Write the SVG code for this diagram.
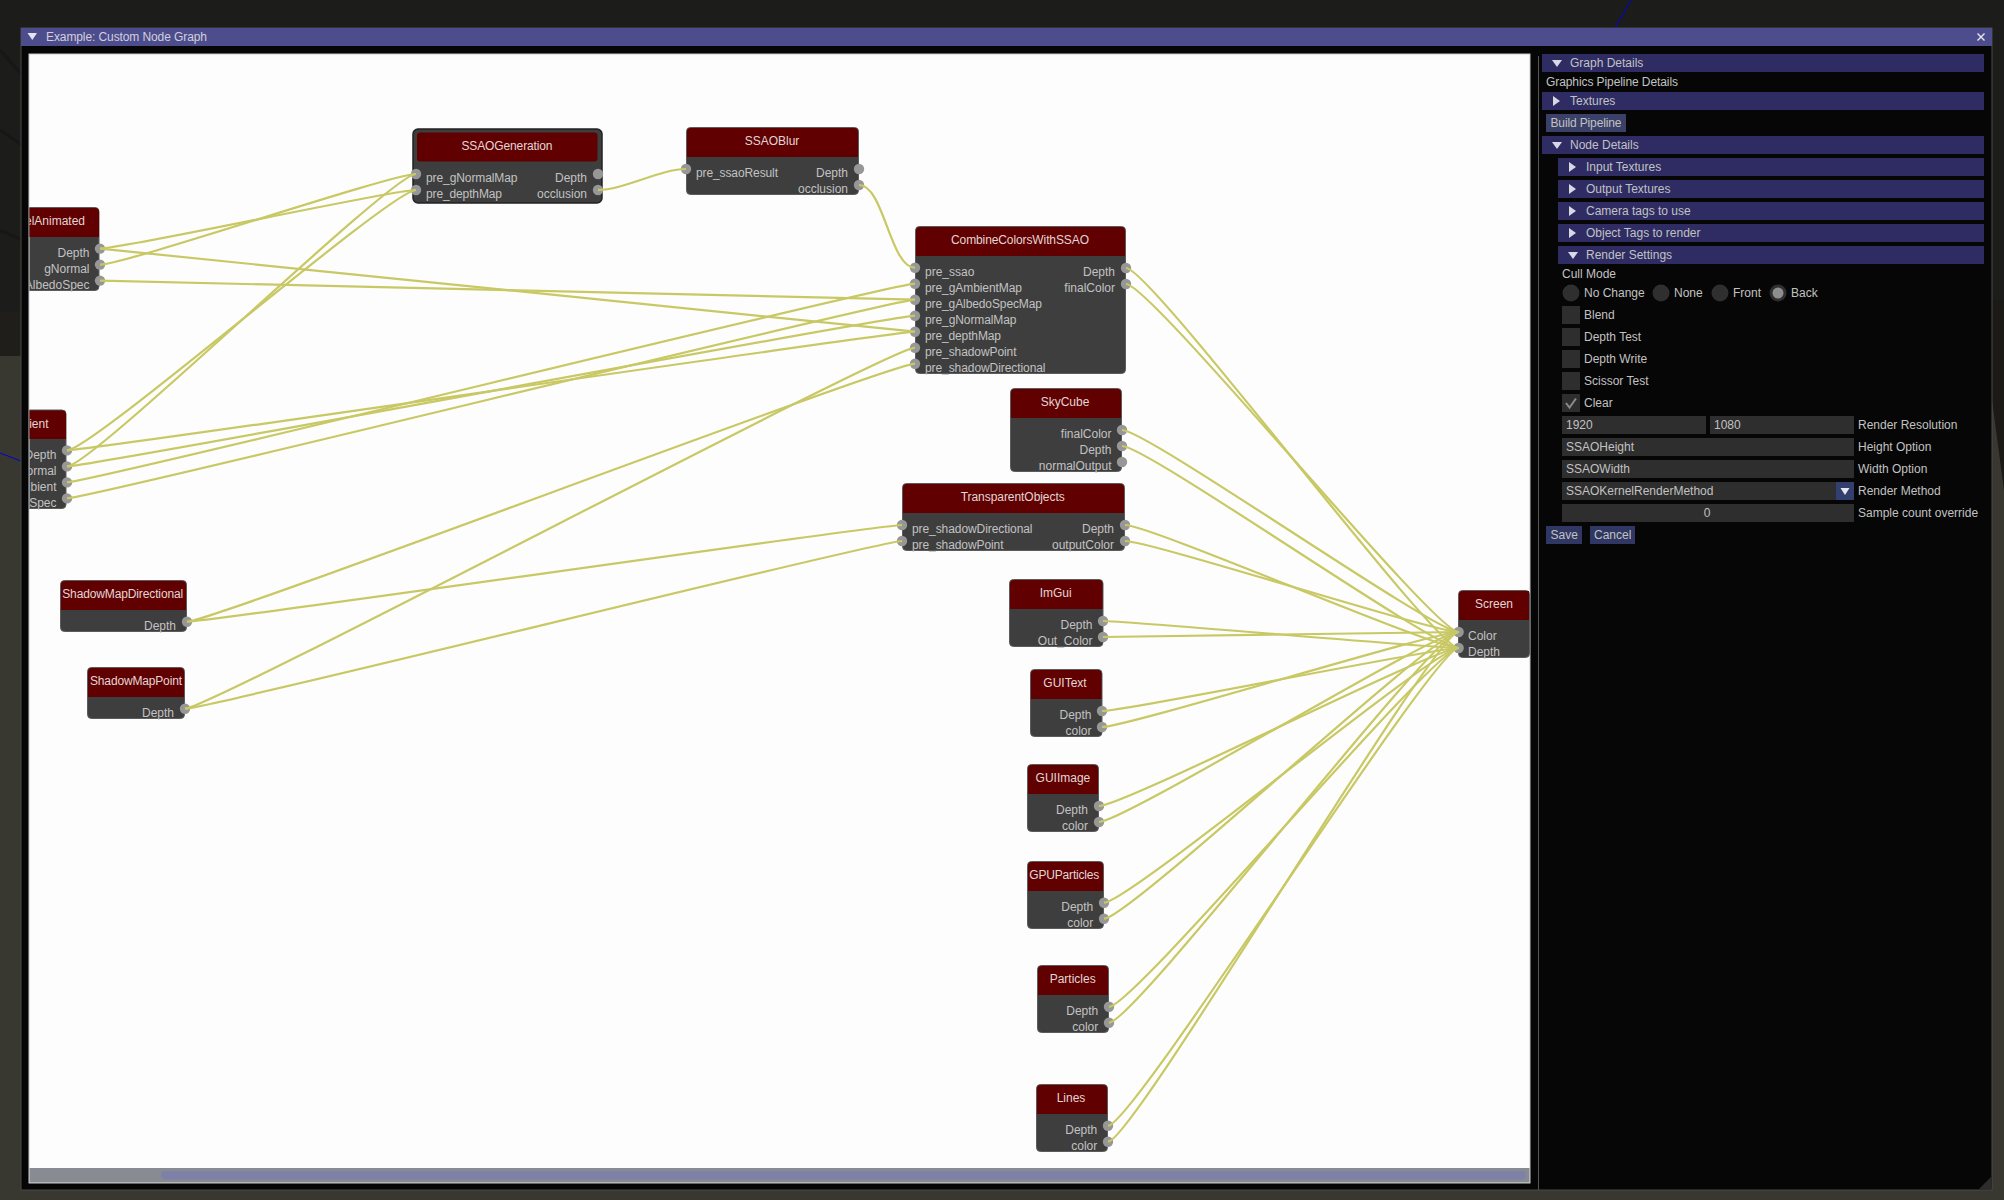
<svg xmlns="http://www.w3.org/2000/svg" width="2004" height="1200" viewBox="0 0 2004 1200">
<defs>
<style>
text{font-family:"Liberation Sans",Arial,sans-serif;font-size:12px;fill:#c2c2c2}
.t{text-anchor:middle;fill:#e2d6d6}
.r{text-anchor:end}
.b{fill:#3e3e3e;stroke:#5c5c5c;stroke-width:1}
.h{fill:#600000}
.p{fill:#979797}
.hd{fill:#2e2c63}
.ib{fill:#2e2e2e}
.btn{fill:#2f3762}
.rd{fill:#2f2f2f}
.c{fill:none;stroke:#c8c864;stroke-width:2.2}
</style>
<clipPath id="cv"><rect x="29.5" y="54" width="1500" height="1114"/></clipPath>
</defs>
<g id="background">
<rect width="2004" height="1200" fill="#383730"/>
<rect width="2004" height="312" fill="#1c1c1b"/>
<rect y="312" width="22" height="44" fill="#201e1a"/>
<path d="M1992 300V400L2004 490V300Z" fill="#1c1a17"/>
<path d="M0 50L22 75M0 130L22 145M0 230L22 240" stroke="#171717" stroke-width="3" fill="none"/>
<path d="M0 453L21 461M1615 28L1631 0" stroke="#0000d8" stroke-width="1" fill="none"/>
</g>
<g id="window">
<rect x="21" y="28" width="1971" height="1162" fill="#060606" stroke="#4a4a4a" stroke-width="1"/>
<rect x="21" y="28" width="1971" height="18" fill="#4d4c8c"/>
<path d="M27.500 33H37L32.300 40Z" fill="#e4e4f0"/>
<text x="46" y="41" style="fill:#d0d0dc" textLength="161">Example: Custom Node Graph</text>
<path d="M1977.500 33.500L1984.500 40.500M1984.500 33.500L1977.500 40.500" stroke="#e8e8f0" stroke-width="1.400" fill="none"/>
<path d="M1978 1190L1991 1177V1190Z" fill="#2c2c2c"/>
<rect x="29" y="54" width="1501" height="1129" fill="#fdfdfd" stroke="#c8c8c8" stroke-width="1"/>
<rect x="29.500" y="1168" width="1500" height="14.500" fill="#868c92"/>
<rect x="161" y="1171" width="1365" height="8.500" rx="4" fill="#7f80a8"/>
<path d="M1538.500 56V1190" stroke="#555" stroke-width="1" fill="none"/>
</g>
<g clip-path="url(#cv)">
<g id="node-gbuffer-animated">
<rect class="b" x="22" y="207.500" width="77" height="83" rx="4"/>
<path class="h" d="M22 208H95a4 4 0 0 1 4 4V237H22Z"/>
<text class="t" x="85" y="225" style="text-anchor:end">elAnimated</text>
<text class="r" x="89.500" y="257">Depth</text><text class="r" x="89.500" y="273">gNormal</text><text class="r" x="89.500" y="289">AlbedoSpec</text>
<circle class="p" cx="100" cy="248.600" r="5.200"/><circle class="p" cx="100" cy="264.600" r="5.200"/><circle class="p" cx="100" cy="280.600" r="5.200"/>
</g>
<g id="node-gbuffer">
<rect class="b" x="22" y="410" width="44" height="98.500" rx="4"/>
<path class="h" d="M22 410.500H62a4 4 0 0 1 4 4V439H22Z"/>
<text class="t" x="48.500" y="427.500" style="text-anchor:end">ient</text>
<text class="r" x="56.500" y="459">Depth</text><text class="r" x="56.500" y="475">ormal</text><text class="r" x="56.500" y="491">bient</text><text class="r" x="56.500" y="507">Spec</text>
<circle class="p" cx="67" cy="450.400" r="5.200"/><circle class="p" cx="67" cy="466.400" r="5.200"/><circle class="p" cx="67" cy="482.400" r="5.200"/><circle class="p" cx="67" cy="498.400" r="5.200"/>
</g>
</g>
<g id="node-ssaogeneration">
<rect x="413" y="129" width="189" height="74" rx="5" fill="#3e3e3e" stroke="#222" stroke-width="1.500"/>
<rect class="h" x="417" y="132.500" width="180.500" height="29" rx="3"/>
<text class="t" x="507" y="150" textLength="91">SSAOGeneration</text>
<text x="426" y="182" textLength="91.500">pre_gNormalMap</text><text x="426" y="198" textLength="76">pre_depthMap</text>
<text class="r" x="587" y="182">Depth</text><text class="r" x="587" y="198">occlusion</text>
<circle class="p" cx="416" cy="174" r="5.200"/><circle class="p" cx="416" cy="190" r="5.200"/><circle class="p" cx="598" cy="174" r="5.200"/><circle class="p" cx="598" cy="190" r="5.200"/>
</g>
<g id="node-ssaoblur">
<rect class="b" x="686.500" y="127.500" width="172" height="67" rx="4"/>
<path class="h" d="M687 132a4 4 0 0 1 4-4H854a4 4 0 0 1 4 4V157H687Z"/>
<text class="t" x="772" y="145">SSAOBlur</text>
<text x="696" y="177" textLength="82">pre_ssaoResult</text><text class="r" x="848" y="177">Depth</text><text class="r" x="848" y="193">occlusion</text>
<circle class="p" cx="686" cy="169" r="5.200"/><circle class="p" cx="859" cy="169" r="5.200"/><circle class="p" cx="859" cy="185" r="5.200"/>
</g>
<g id="node-combine">
<rect class="b" x="915.500" y="226.500" width="210" height="147" rx="4"/>
<path class="h" d="M916 231a4 4 0 0 1 4-4H1121a4 4 0 0 1 4 4V256H916Z"/>
<text class="t" x="1020" y="244" textLength="138">CombineColorsWithSSAO</text>
<text x="925" y="276">pre_ssao</text><text x="925" y="292" textLength="97">pre_gAmbientMap</text><text x="925" y="308" textLength="117">pre_gAlbedoSpecMap</text><text x="925" y="324" textLength="91.500">pre_gNormalMap</text><text x="925" y="340" textLength="76">pre_depthMap</text><text x="925" y="356" textLength="91.500">pre_shadowPoint</text><text x="925" y="372" textLength="120.500">pre_shadowDirectional</text>
<text class="r" x="1115" y="276">Depth</text><text class="r" x="1115" y="292">finalColor</text>
<circle class="p" cx="915" cy="267.700" r="5.200"/><circle class="p" cx="915" cy="283.700" r="5.200"/><circle class="p" cx="915" cy="299.700" r="5.200"/><circle class="p" cx="915" cy="315.700" r="5.200"/><circle class="p" cx="915" cy="331.700" r="5.200"/><circle class="p" cx="915" cy="347.700" r="5.200"/><circle class="p" cx="915" cy="363.700" r="5.200"/>
<circle class="p" cx="1126" cy="268" r="5.200"/><circle class="p" cx="1126" cy="284" r="5.200"/>
</g>
<g id="node-skycube">
<rect class="b" x="1010.500" y="388.500" width="111" height="83" rx="4"/>
<path class="h" d="M1011 393a4 4 0 0 1 4-4H1117a4 4 0 0 1 4 4V418H1011Z"/>
<text class="t" x="1065" y="406">SkyCube</text>
<text class="r" x="1111.500" y="438">finalColor</text><text class="r" x="1111.500" y="454">Depth</text><text class="r" x="1111.500" y="470">normalOutput</text>
<circle class="p" cx="1122" cy="430" r="5.200"/><circle class="p" cx="1122" cy="446" r="5.200"/><circle class="p" cx="1122" cy="462" r="5.200"/>
</g>
<g id="node-transparent">
<rect class="b" x="902.500" y="483.500" width="222" height="67" rx="4"/>
<path class="h" d="M903 488a4 4 0 0 1 4-4H1120a4 4 0 0 1 4 4V513H903Z"/>
<text class="t" x="1012.700" y="501" textLength="104">TransparentObjects</text>
<text x="912" y="533" textLength="120.500">pre_shadowDirectional</text><text x="912" y="549" textLength="91.500">pre_shadowPoint</text>
<text class="r" x="1114" y="533">Depth</text><text class="r" x="1114" y="549">outputColor</text>
<circle class="p" cx="902" cy="525" r="5.200"/><circle class="p" cx="902" cy="541" r="5.200"/><circle class="p" cx="1125" cy="525" r="5.200"/><circle class="p" cx="1125" cy="541" r="5.200"/>
</g>
<g id="node-shadowdir">
<rect class="b" x="60.500" y="580.500" width="126" height="51" rx="4"/>
<path class="h" d="M61 585a4 4 0 0 1 4-4H182a4 4 0 0 1 4 4V610H61Z"/>
<text class="t" x="122.700" y="598" textLength="121">ShadowMapDirectional</text>
<text class="r" x="176" y="629.500">Depth</text>
<circle class="p" cx="187" cy="621.700" r="5.200"/>
</g>
<g id="node-shadowpoint">
<rect class="b" x="87.500" y="667.500" width="97" height="51" rx="4"/>
<path class="h" d="M88 672a4 4 0 0 1 4-4H180a4 4 0 0 1 4 4V697H88Z"/>
<text class="t" x="136" y="684.500" textLength="92">ShadowMapPoint</text>
<text class="r" x="174" y="716.500">Depth</text>
<circle class="p" cx="185" cy="708.700" r="5.200"/>
</g>
<g id="node-imgui">
<rect class="b" x="1009.500" y="579.500" width="93.500" height="67" rx="4"/>
<path class="h" d="M1010 584a4 4 0 0 1 4-4H1098.500a4 4 0 0 1 4 4V609H1010Z"/>
<text class="t" x="1055.700" y="597">ImGui</text>
<text class="r" x="1092.500" y="629">Depth</text><text class="r" x="1092.500" y="645">Out_Color</text>
<circle class="p" cx="1103" cy="621" r="5.200"/><circle class="p" cx="1103" cy="637" r="5.200"/>
</g>
<g id="node-guitext">
<rect class="b" x="1030.500" y="669.500" width="71.500" height="67" rx="4"/>
<path class="h" d="M1031 674a4 4 0 0 1 4-4H1097.500a4 4 0 0 1 4 4V699H1031Z"/>
<text class="t" x="1065" y="687">GUIText</text>
<text class="r" x="1091.500" y="719">Depth</text><text class="r" x="1091.500" y="735">color</text>
<circle class="p" cx="1102" cy="711" r="5.200"/><circle class="p" cx="1102" cy="727" r="5.200"/>
</g>
<g id="node-guiimage">
<rect class="b" x="1027.500" y="764.500" width="71" height="67" rx="4"/>
<path class="h" d="M1028 769a4 4 0 0 1 4-4H1094a4 4 0 0 1 4 4V794H1028Z"/>
<text class="t" x="1062.900" y="782">GUIImage</text>
<text class="r" x="1088" y="814">Depth</text><text class="r" x="1088" y="830">color</text>
<circle class="p" cx="1099" cy="806" r="5.200"/><circle class="p" cx="1099" cy="822" r="5.200"/>
</g>
<g id="node-gpuparticles">
<rect class="b" x="1027.500" y="861.500" width="76" height="67" rx="4"/>
<path class="h" d="M1028 866a4 4 0 0 1 4-4H1099a4 4 0 0 1 4 4V891H1028Z"/>
<text class="t" x="1064.300" y="879" textLength="70">GPUParticles</text>
<text class="r" x="1093.300" y="911">Depth</text><text class="r" x="1093.300" y="927">color</text>
<circle class="p" cx="1104" cy="902.700" r="5.200"/><circle class="p" cx="1104" cy="918.700" r="5.200"/>
</g>
<g id="node-particles">
<rect class="b" x="1037.500" y="965.500" width="71" height="67" rx="4"/>
<path class="h" d="M1038 970a4 4 0 0 1 4-4H1104a4 4 0 0 1 4 4V995H1038Z"/>
<text class="t" x="1072.700" y="983">Particles</text>
<text class="r" x="1098.300" y="1015">Depth</text><text class="r" x="1098.300" y="1031">color</text>
<circle class="p" cx="1109" cy="1006.700" r="5.200"/><circle class="p" cx="1109" cy="1022.700" r="5.200"/>
</g>
<g id="node-lines">
<rect class="b" x="1036.500" y="1084.500" width="71" height="67" rx="4"/>
<path class="h" d="M1037 1089a4 4 0 0 1 4-4H1103a4 4 0 0 1 4 4V1114H1037Z"/>
<text class="t" x="1071" y="1102">Lines</text>
<text class="r" x="1097.300" y="1134">Depth</text><text class="r" x="1097.300" y="1150">color</text>
<circle class="p" cx="1108" cy="1125.700" r="5.200"/><circle class="p" cx="1108" cy="1141.700" r="5.200"/>
</g>
<g id="node-screen">
<rect class="b" x="1458.500" y="590.500" width="71" height="67" rx="4"/>
<path class="h" d="M1459 595a4 4 0 0 1 4-4H1529V620H1459Z"/>
<text class="t" x="1494" y="608">Screen</text>
<text x="1468" y="640">Color</text><text x="1468" y="656">Depth</text>
<circle class="p" cx="1458.600" cy="632" r="5.200"/><circle class="p" cx="1458.600" cy="648" r="5.200"/>
</g>
<g id="connectors" clip-path="url(#cv)">
<path class="c" d="M100 248.600C125 248.600 391 190 416 190"/>
<path class="c" d="M100 264.600C125 264.600 391 174 416 174"/>
<path class="c" d="M100 248.600C125 248.600 890 331.700 915 331.700"/>
<path class="c" d="M100 280.600C125 280.600 890 299.700 915 299.700"/>
<path class="c" d="M67 450.400C92 450.400 391 190 416 190"/>
<path class="c" d="M67 466.400C92 466.400 391 174 416 174"/>
<path class="c" d="M67 450.400C92 450.400 890 331.700 915 331.700"/>
<path class="c" d="M67 466.400C92 466.400 890 315.700 915 315.700"/>
<path class="c" d="M67 482.400C92 482.400 890 283.700 915 283.700"/>
<path class="c" d="M67 498.400C92 498.400 890 299.700 915 299.700"/>
<path class="c" d="M187 621.700C212 621.700 890 363.700 915 363.700"/>
<path class="c" d="M187 621.700C212 621.700 877 525 902 525"/>
<path class="c" d="M185 708.700C210 708.700 890 347.700 915 347.700"/>
<path class="c" d="M185 708.700C210 708.700 877 541 902 541"/>
<path class="c" d="M598 190C623 190 661 169 686 169"/>
<path class="c" d="M859 185C884 185 890 267.700 915 267.700"/>
<path class="c" d="M1126 268C1151 268 1433.600 648 1458.600 648"/>
<path class="c" d="M1126 284C1151 284 1433.600 632 1458.600 632"/>
<path class="c" d="M1122 430C1147 430 1433.600 632 1458.600 632"/>
<path class="c" d="M1122 446C1147 446 1433.600 648 1458.600 648"/>
<path class="c" d="M1125 525C1150 525 1433.600 648 1458.600 648"/>
<path class="c" d="M1125 541C1150 541 1433.600 632 1458.600 632"/>
<path class="c" d="M1103 621C1128 621 1433.600 648 1458.600 648"/>
<path class="c" d="M1103 637C1128 637 1433.600 632 1458.600 632"/>
<path class="c" d="M1102 711C1127 711 1433.600 648 1458.600 648"/>
<path class="c" d="M1102 727C1127 727 1433.600 632 1458.600 632"/>
<path class="c" d="M1099 806C1124 806 1433.600 648 1458.600 648"/>
<path class="c" d="M1099 822C1124 822 1433.600 632 1458.600 632"/>
<path class="c" d="M1104 902.700C1129 902.700 1433.600 648 1458.600 648"/>
<path class="c" d="M1104 918.700C1129 918.700 1433.600 632 1458.600 632"/>
<path class="c" d="M1109 1006.700C1134 1006.700 1433.600 648 1458.600 648"/>
<path class="c" d="M1109 1022.700C1134 1022.700 1433.600 632 1458.600 632"/>
<path class="c" d="M1108 1125.700C1133 1125.700 1433.600 648 1458.600 648"/>
<path class="c" d="M1108 1141.700C1133 1141.700 1433.600 632 1458.600 632"/>
</g>
<g id="details-panel">
<rect class="hd" x="1542" y="54" width="442" height="18"/><path d="M1552 60H1562L1557 67Z" fill="#d8d8e4"/><text x="1570" y="67">Graph Details</text>
<text x="1546" y="86" textLength="132">Graphics Pipeline Details</text>
<rect class="hd" x="1542" y="92" width="442" height="18"/><path d="M1553 96L1560 101L1553 106Z" fill="#d8d8e4"/><text x="1570" y="105">Textures</text>
<rect x="1546" y="114" width="80" height="18" fill="#3a4068"/><text x="1550.500" y="127" textLength="71">Build Pipeline</text>
<rect class="hd" x="1542" y="136" width="442" height="18"/><path d="M1552 142H1562L1557 149Z" fill="#d8d8e4"/><text x="1570" y="149">Node Details</text>
<rect class="hd" x="1558" y="158" width="426" height="18"/><path d="M1569 162L1576 167L1569 172Z" fill="#d8d8e4"/><text x="1586" y="171">Input Textures</text>
<rect class="hd" x="1558" y="180" width="426" height="18"/><path d="M1569 184L1576 189L1569 194Z" fill="#d8d8e4"/><text x="1586" y="193">Output Textures</text>
<rect class="hd" x="1558" y="202" width="426" height="18"/><path d="M1569 206L1576 211L1569 216Z" fill="#d8d8e4"/><text x="1586" y="215">Camera tags to use</text>
<rect class="hd" x="1558" y="224" width="426" height="18"/><path d="M1569 228L1576 233L1569 238Z" fill="#d8d8e4"/><text x="1586" y="237">Object Tags to render</text>
<rect class="hd" x="1558" y="246" width="426" height="18"/><path d="M1568 252H1578L1573 259Z" fill="#d8d8e4"/><text x="1586" y="259">Render Settings</text>
<text x="1562" y="278">Cull Mode</text>
<circle class="rd" cx="1571" cy="293" r="8.500"/><text x="1584" y="297">No Change</text>
<circle class="rd" cx="1661" cy="293" r="8.500"/><text x="1674" y="297">None</text>
<circle class="rd" cx="1720" cy="293" r="8.500"/><text x="1733" y="297">Front</text>
<circle class="rd" cx="1778" cy="293" r="8.500"/><circle cx="1778" cy="293" r="5.500" fill="#8e8e8e"/><text x="1791" y="297">Back</text>
<rect class="ib" x="1562" y="306" width="18" height="18"/><text x="1584" y="319">Blend</text>
<rect class="ib" x="1562" y="328" width="18" height="18"/><text x="1584" y="341">Depth Test</text>
<rect class="ib" x="1562" y="350" width="18" height="18"/><text x="1584" y="363">Depth Write</text>
<rect class="ib" x="1562" y="372" width="18" height="18"/><text x="1584" y="385">Scissor Test</text>
<rect class="ib" x="1562" y="394" width="18" height="18"/><path d="M1566 403L1569.500 407.500L1576 398.500" fill="none" stroke="#8a8a8a" stroke-width="2"/><text x="1584" y="407">Clear</text>
<rect class="ib" x="1562" y="416" width="144" height="18"/><text x="1566" y="429">1920</text>
<rect class="ib" x="1710" y="416" width="144" height="18"/><text x="1714" y="429">1080</text><text x="1858" y="429">Render Resolution</text>
<rect class="ib" x="1562" y="438" width="292" height="18"/><text x="1566" y="451">SSAOHeight</text><text x="1858" y="451">Height Option</text>
<rect class="ib" x="1562" y="460" width="292" height="18"/><text x="1566" y="473">SSAOWidth</text><text x="1858" y="473">Width Option</text>
<rect class="ib" x="1562" y="482" width="292" height="18"/><text x="1566" y="495">SSAOKernelRenderMethod</text>
<rect x="1836" y="482" width="18" height="18" fill="#33406f"/><path d="M1840.500 488H1849.500L1845 495Z" fill="#e8e8f0"/><text x="1858" y="495">Render Method</text>
<rect class="ib" x="1562" y="504" width="292" height="18"/><text x="1707" y="517" style="text-anchor:middle">0</text><text x="1858" y="517">Sample count override</text>
<rect class="btn" x="1546" y="526" width="36" height="18"/><text x="1550.500" y="539">Save</text>
<rect class="btn" x="1590" y="526" width="45" height="18"/><text x="1594" y="539">Cancel</text>
</g>
</svg>
